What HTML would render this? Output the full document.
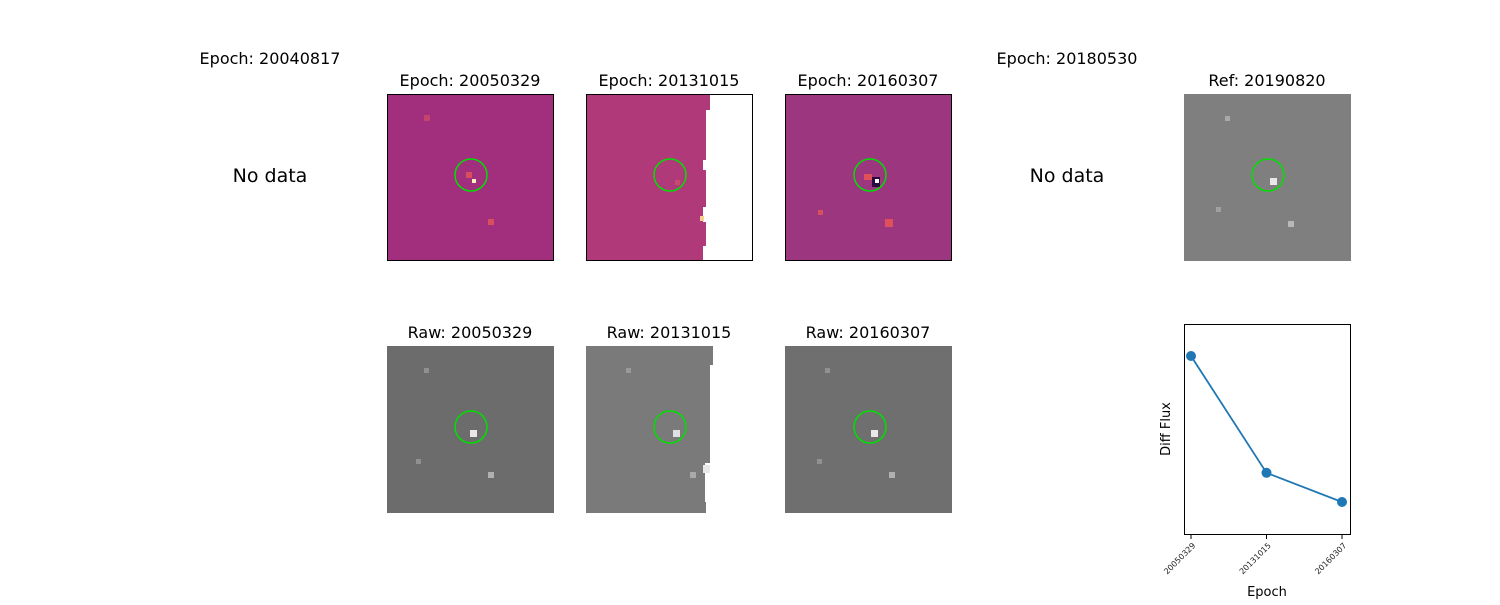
<!DOCTYPE html>
<html><head><meta charset="utf-8"><style>
body{margin:0;background:#fff;width:1500px;height:600px;overflow:hidden;font-family:"Liberation Sans","DejaVu Sans",sans-serif}
</style></head><body>
<svg width="1500" height="600" xmlns="http://www.w3.org/2000/svg" font-family="DejaVu Sans, Liberation Sans, sans-serif">
<g>
<text x="270" y="64" font-size="16" text-anchor="middle">Epoch: 20040817</text>
<text x="270" y="182" font-size="19" text-anchor="middle">No data</text></g>
<g>
<text x="1067" y="64" font-size="16" text-anchor="middle">Epoch: 20180530</text>
<text x="1067" y="182" font-size="19" text-anchor="middle">No data</text></g>

<g>
<text x="470" y="86" font-size="16" text-anchor="middle">Epoch: 20050329</text>
<rect x="387.5" y="94.5" width="166" height="166" fill="#a22e7e" stroke="#000"/>
<rect x="424" y="115" width="6" height="6" fill="#c4446e"/>
<rect x="466" y="172" width="6" height="6" fill="#d8505e"/>
<rect x="472" y="179" width="4" height="4" fill="#fff3c0"/>
<rect x="488" y="219" width="6" height="6" fill="#d8505e"/>
<circle cx="471" cy="175" r="16" fill="none" stroke="#00e000" stroke-width="1.5"/></g>

<g>
<text x="669" y="86" font-size="16" text-anchor="middle">Epoch: 20131015</text>
<rect x="586.5" y="94.5" width="166" height="166" fill="#b03a79" stroke="#000"/>
<path d="M710 95 V110 H706 V160 H703 V170 H706 V207 H703 V222 H706 V246 H703 V260 H752 V95 Z" fill="#fff"/>
<rect x="586.5" y="94.5" width="166" height="166" fill="none" stroke="#000"/>
<rect x="675" y="180" width="5" height="5" fill="#c84a70"/>
<rect x="700" y="216" width="4" height="5" fill="#f7d090"/>
<circle cx="670" cy="175" r="16" fill="none" stroke="#00e000" stroke-width="1.5"/></g>

<g>
<text x="868" y="86" font-size="16" text-anchor="middle">Epoch: 20160307</text>
<rect x="785.5" y="94.5" width="166" height="166" fill="#9c367f" stroke="#000"/>
<rect x="864" y="174" width="8" height="6" fill="#e0505a"/>
<rect x="872" y="177" width="8" height="10" fill="#2a0a40"/>
<rect x="875" y="179" width="4" height="4" fill="#fff"/>
<rect x="885" y="219" width="8" height="8" fill="#e0505a"/>
<rect x="818" y="210" width="5" height="5" fill="#d8505e"/>
<circle cx="870" cy="175" r="16" fill="none" stroke="#00e000" stroke-width="1.5"/></g>

<g>
<text x="1267" y="86" font-size="16" text-anchor="middle">Ref: 20190820</text>
<rect x="1184" y="94" width="167" height="167" fill="#7f7f7f"/>
<rect x="1225" y="116" width="5" height="5" fill="#a8a8a8"/>
<rect x="1270" y="178" width="7" height="7" fill="#e8e8e8"/>
<rect x="1288" y="221" width="6" height="6" fill="#b8b8b8"/>
<rect x="1216" y="207" width="5" height="5" fill="#a0a0a0"/>
<circle cx="1268" cy="175" r="16" fill="none" stroke="#00e000" stroke-width="1.5"/></g>

<g>
<text x="470" y="338" font-size="16" text-anchor="middle">Raw: 20050329</text>
<rect x="387" y="346" width="167" height="167" fill="#6c6c6c"/>
<rect x="424" y="368" width="5" height="5" fill="#909090"/>
<rect x="470" y="430" width="7" height="7" fill="#e8e8e8"/>
<rect x="488" y="472" width="6" height="6" fill="#b0b0b0"/>
<rect x="416" y="459" width="5" height="5" fill="#909090"/>
<circle cx="471" cy="427" r="16" fill="none" stroke="#00e000" stroke-width="1.5"/></g>

<g>
<text x="669" y="338" font-size="16" text-anchor="middle">Raw: 20131015</text>
<path d="M586 346 H713 V365 H710 V463 H705 V502 H706 V513 H586 Z" fill="#7a7a7a"/>
<rect x="626" y="368" width="5" height="5" fill="#999"/>
<rect x="673" y="430" width="7" height="7" fill="#e0e0e0"/>
<rect x="703" y="465" width="7" height="8" fill="#e8e8e8"/>
<rect x="690" y="472" width="6" height="6" fill="#aaa"/>
<circle cx="670" cy="427" r="16" fill="none" stroke="#00e000" stroke-width="1.5"/></g>

<g>
<text x="868" y="338" font-size="16" text-anchor="middle">Raw: 20160307</text>
<rect x="785" y="346" width="167" height="167" fill="#6f6f6f"/>
<rect x="825" y="368" width="5" height="5" fill="#909090"/>
<rect x="871" y="430" width="7" height="7" fill="#e8e8e8"/>
<rect x="889" y="472" width="6" height="6" fill="#b0b0b0"/>
<rect x="817" y="459" width="5" height="5" fill="#909090"/>
<circle cx="870" cy="427" r="16" fill="none" stroke="#00e000" stroke-width="1.5"/></g>

<g id="lc">
<rect x="1184.5" y="324.5" width="166" height="210" fill="none" stroke="#000"/>
<text x="1267" y="596" font-size="13" text-anchor="middle">Epoch</text>
<text transform="translate(1170,429) rotate(-90)" font-size="13" text-anchor="middle">Diff Flux</text>
</g>
</svg>
<script>
const categories = ["20050329","20131015","20160307"];
const fluxValues = [1.0, 0.2, 0.0];
const yDomain = [-0.219, 1.219];
const NS="http://www.w3.org/2000/svg";
const g=document.getElementById('lc');
const X0=1191,X1=1342,Y0=534,Y1=324;
const xs=i=>X0+i*(X1-X0)/(categories.length-1);
const ys=v=>Y0-(v-yDomain[0])/(yDomain[1]-yDomain[0])*(Y0-Y1);
function mk(t,a){const e=document.createElementNS(NS,t);for(const k in a)e.setAttribute(k,a[k]);g.appendChild(e);return e;}
const line=mk('polyline',{points:fluxValues.map((v,i)=>xs(i)+','+ys(v)).join(' '),fill:'none',stroke:'#1f77b4','stroke-width':1.8});


fluxValues.forEach((v,i)=>{
 const c=mk('circle',{cx:xs(i),cy:ys(v),r:5,fill:'#1f77b4'});
 
 
 const tk=mk('line',{x1:xs(i),x2:xs(i),y1:535,y2:539,stroke:'#000'});
 
 
 const t=mk('text',{transform:`translate(${xs(i)+5},546) rotate(-45)`,'font-size':8,'text-anchor':'end',fill:'#222'});
 t.textContent=categories[i];
 
 
});
</script>
</body></html>
